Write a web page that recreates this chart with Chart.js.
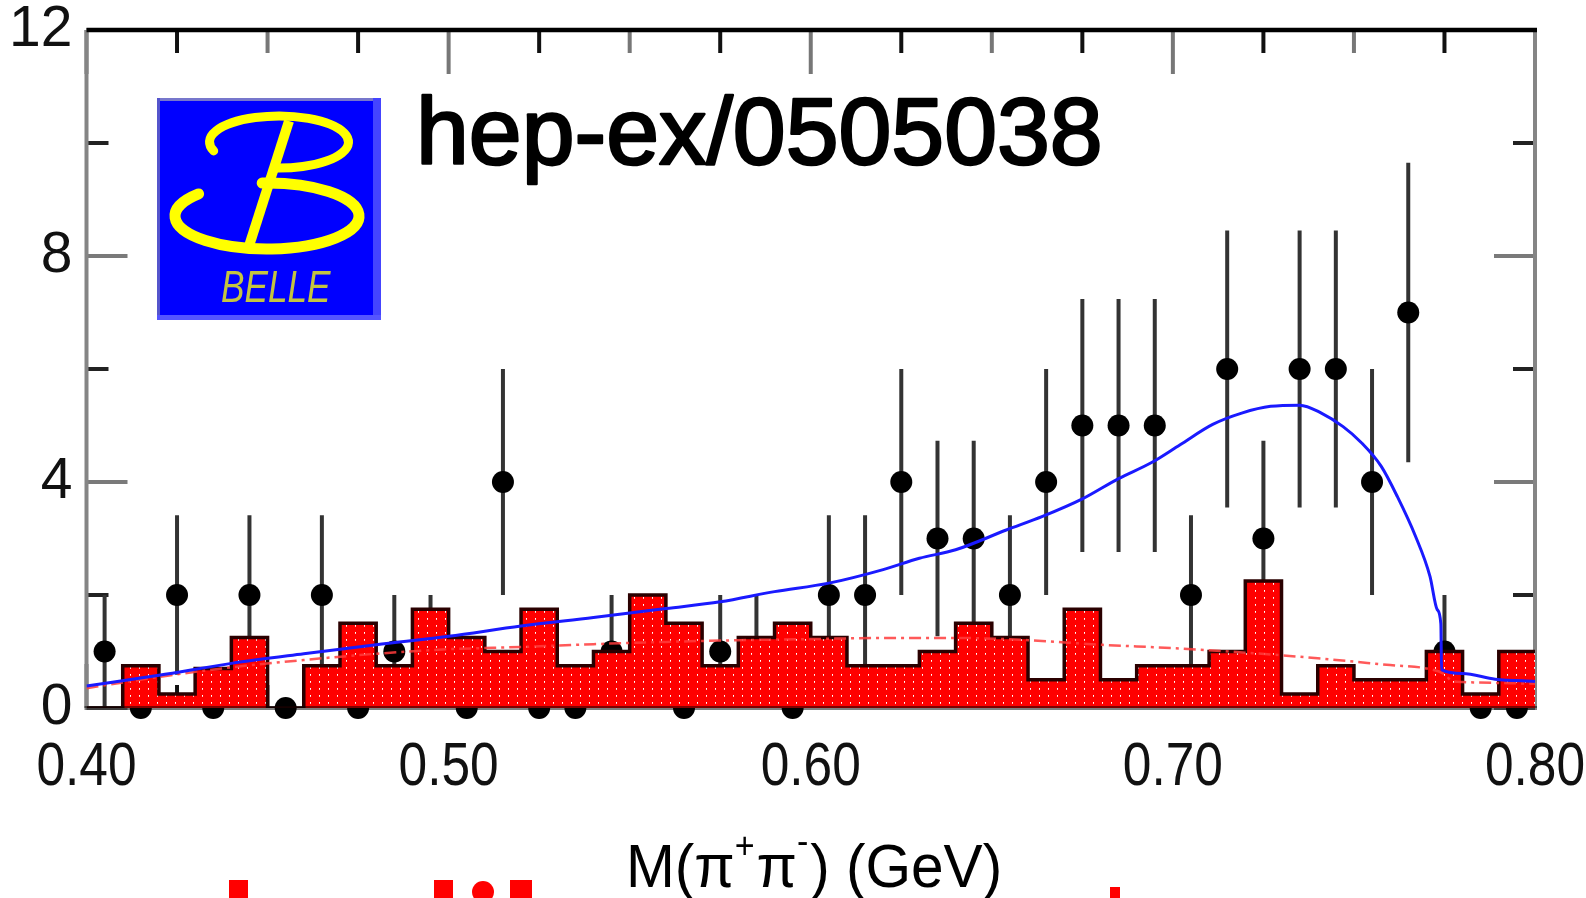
<!DOCTYPE html>
<html>
<head>
<meta charset="utf-8">
<script src="https://cdn.jsdelivr.net/npm/chart.js@4.4.1/dist/chart.umd.min.js"></script>
<style>
  html, body { margin: 0; padding: 0; background: #fff; overflow: hidden; }
  #wrap { width: 1586px; height: 898px; }
</style>
</head>
<body>
<div id="wrap"><canvas id="massChart" width="1586" height="898"></canvas></div>
<script>
// M(pi+ pi-) bin edges in GeV
const binEdges = [0.40, 0.41, 0.42, 0.43, 0.44, 0.45, 0.46, 0.47, 0.48, 0.49,
                  0.50, 0.51, 0.52, 0.53, 0.54, 0.55, 0.56, 0.57, 0.58, 0.59,
                  0.60, 0.61, 0.62, 0.63, 0.64, 0.65, 0.66, 0.67, 0.68, 0.69,
                  0.70, 0.71, 0.72, 0.73, 0.74, 0.75, 0.76, 0.77, 0.78, 0.79, 0.80];

// events per bin (black points)
const eventCounts = [1, 0, 2, 0, 2, 0, 2, 0, 1, 1,
                     0, 4, 0, 0, 1, 1, 0, 1, 1, 0,
                     2, 2, 4, 3, 3, 2, 4, 5, 5, 5,
                     2, 6, 3, 6, 6, 4, 7, 1, 0, 0];

// half length of each error bar
const countErrors = [1.0, 0, 1.41, 0, 1.41, 0, 1.41, 0, 1.0, 1.0,
                     0, 2.0, 0, 0, 1.0, 1.0, 0, 1.0, 1.0, 0,
                     1.41, 1.41, 2.0, 1.73, 1.73, 1.41, 2.0, 2.24, 2.24, 2.24,
                     1.41, 2.45, 1.73, 2.45, 2.45, 2.0, 2.65, 1.0, 0, 0];

// red filled histogram
const mcHeights = [0, 0.75, 0.25, 0.7, 1.25, 0, 0.75, 1.5, 0.75, 1.75,
                   1.25, 1.0, 1.75, 0.75, 1.0, 2.0, 1.5, 0.75, 1.25, 1.5,
                   1.25, 0.75, 0.75, 1.0, 1.5, 1.25, 0.5, 1.75, 0.5, 0.75,
                   0.75, 1.0, 2.25, 0.25, 0.75, 0.5, 0.5, 1.0, 0.25, 1.0];

// blue fit curve
const fitMass  = [0.40, 0.42, 0.44, 0.46, 0.48, 0.50, 0.52, 0.54, 0.56, 0.575,
                  0.59, 0.605, 0.62, 0.63, 0.64, 0.654, 0.664, 0.675, 0.685, 0.694,
                  0.702, 0.711, 0.719, 0.727, 0.735, 0.741, 0.747, 0.752, 0.7575, 0.762,
                  0.767, 0.771, 0.773, 0.774, 0.7742, 0.78, 0.789, 0.80];
const fitYield = [0.39, 0.58, 0.79, 0.96, 1.12, 1.27, 1.45, 1.6, 1.76, 1.88,
                  2.06, 2.21, 2.45, 2.65, 2.8, 3.15, 3.39, 3.7, 4.06, 4.34,
                  4.66, 5.02, 5.22, 5.34, 5.36, 5.22, 4.98, 4.7, 4.28, 3.74,
                  3.04, 2.33, 1.74, 1.49, 0.68, 0.61, 0.51, 0.47];

// red dash-dot background curve
const bkgMass  = [0.40, 0.42, 0.44, 0.46, 0.48, 0.50, 0.52, 0.54, 0.56, 0.58,
                  0.60, 0.62, 0.64, 0.66, 0.68, 0.70, 0.72, 0.74, 0.76, 0.77,
                  0.775, 0.777, 0.78, 0.80];
const bkgYield = [0.35, 0.55, 0.72, 0.85, 0.96, 1.04, 1.08, 1.13, 1.17, 1.2,
                  1.22, 1.24, 1.24, 1.2, 1.12, 1.06, 0.98, 0.88, 0.76, 0.7,
                  0.6, 0.48, 0.46, 0.43];

const xTickLabels = ['0.40', '0.50', '0.60', '0.70', '0.80'];

const canvas = document.getElementById('massChart');
const mainCtx = canvas.getContext('2d');

function makeFill() {
    const c = document.createElement('canvas');
    c.width = 9; c.height = 7;
    const g = c.getContext('2d');
    g.fillStyle = '#ff0000';
    g.fillRect(0, 0, 9, 7);
    g.fillStyle = '#ffc8c8';
    g.fillRect(4, 2, 1, 2);
    g.fillStyle = '#ffffff';
    g.fillRect(4, 2, 1, 1);
    return mainCtx.createPattern(c, 'repeat');
}

const histPoints = binEdges.map((m, i) => ({ x: m, y: mcHeights[Math.min(i, mcHeights.length - 1)] }));
const dataPoints = eventCounts.map((n, i) => ({ x: (binEdges[i] + binEdges[i + 1]) / 2, y: n }));
const fitPoints = fitMass.map((m, i) => ({ x: m, y: fitYield[i] }));
const bkgPoints = bkgMass.map((m, i) => ({ x: m, y: bkgYield[i] }));

function seg(ctx, x1, y1, x2, y2) {
    ctx.beginPath();
    ctx.moveTo(x1, y1);
    ctx.lineTo(x2, y2);
    ctx.stroke();
}

// inward ticks and frame, drawn under the data
const framePlugin = {
    id: 'frame',
    beforeDatasetsDraw(chart) {
        const { ctx, chartArea: a, scales: { x, y } } = chart;
        ctx.save();
        ctx.lineWidth = 4;
        for (let k = 0; k <= 16; k++) {
            const px = x.getPixelForValue(0.4 + k * 0.025);
            const len = k % 4 === 0 ? 44 : 23;
            ctx.strokeStyle = k % 2 ? '#111' : '#777';
            seg(ctx, px, a.top, px, a.top + len);
            seg(ctx, px, a.bottom, px, a.bottom - len);
        }
        for (let v = 0; v <= 12; v += 2) {
            const py = y.getPixelForValue(v);
            const len = v % 4 === 0 ? 41 : 22;
            ctx.strokeStyle = v % 4 ? '#222' : '#7a7a7a';
            seg(ctx, a.left, py, a.left + len, py);
            seg(ctx, a.right, py, a.right - len, py);
        }
        ctx.strokeStyle = '#858585';
        seg(ctx, a.left, a.top, a.left, a.bottom);
        seg(ctx, a.right, a.top, a.right, a.bottom);
        ctx.strokeStyle = '#000';
        ctx.lineWidth = 4.5;
        seg(ctx, a.left, a.top, a.right + 2, a.top);
        ctx.restore();
    },
    afterDatasetsDraw(chart) {
        const { ctx, chartArea: a } = chart;
        ctx.save();
        ctx.strokeStyle = 'rgba(0,0,0,0.5)';
        ctx.lineWidth = 4;
        seg(ctx, a.left - 2, a.bottom, a.right + 2, a.bottom);
        ctx.restore();
    }
};

const errorBarPlugin = {
    id: 'errorBars',
    beforeDatasetDraw(chart, args) {
        if (args.index !== 0) return;
        const { ctx, scales: { x, y } } = chart;
        ctx.save();
        ctx.strokeStyle = '#333';
        ctx.lineWidth = 4;
        dataPoints.forEach((p, i) => {
            const e = countErrors[i];
            if (!e) return;
            const px = x.getPixelForValue(p.x);
            seg(ctx, px, y.getPixelForValue(p.y - e), px, y.getPixelForValue(p.y + e));
        });
        ctx.restore();
    }
};

// x tick labels (condensed), logo, label and axis title
const decorPlugin = {
    id: 'decor',
    afterDraw(chart) {
        const ctx = chart.ctx;
        const xs = chart.scales.x;
        ctx.save();

        ctx.fillStyle = '#111';
        ctx.font = '62px "Liberation Sans", Arial, sans-serif';
        ctx.textAlign = 'center';
        ctx.textBaseline = 'middle';
        xs.ticks.forEach((t) => {
            const label = xTickLabels.find(s => Math.abs(parseFloat(s) - t.value) < 1e-6);
            if (!label) return;
            ctx.save();
            ctx.translate(xs.getPixelForValue(t.value), 768);
            ctx.scale(0.83, 1);
            ctx.fillText(label, 0, 0);
            ctx.restore();
        });
        ctx.textAlign = 'left';
        ctx.textBaseline = 'alphabetic';

        // BELLE logo
        ctx.fillStyle = '#0000ff';
        ctx.fillRect(157, 98, 224, 222);
        ctx.fillStyle = '#7777cc'; ctx.fillRect(157, 98, 224, 3);
        ctx.fillStyle = '#5555cc'; ctx.fillRect(157, 98, 3, 222);
        ctx.fillStyle = '#4444ff'; ctx.fillRect(373, 98, 8, 222);
        ctx.fillStyle = '#5555ff'; ctx.fillRect(157, 315, 224, 5);

        ctx.strokeStyle = '#ffff00';
        ctx.lineCap = 'round';
        ctx.lineWidth = 9;
        ctx.beginPath();
        ctx.ellipse(279, 142, 69.5, 26, 0, 160 * Math.PI / 180, 94 * Math.PI / 180, false);
        ctx.stroke();
        ctx.lineWidth = 11;
        ctx.beginPath();
        ctx.ellipse(267, 216, 92, 33, 0, 222 * Math.PI / 180, 267 * Math.PI / 180, true);
        ctx.stroke();
        ctx.lineWidth = 10;
        ctx.lineCap = 'butt';
        seg(ctx, 289, 121, 249, 246);

        ctx.fillStyle = '#c4c440';
        ctx.font = 'italic 44px "Liberation Sans", Arial, sans-serif';
        ctx.save();
        ctx.translate(221, 302);
        ctx.scale(0.8, 1);
        ctx.fillText('BELLE', 0, 0);
        ctx.restore();

        // paper reference
        ctx.fillStyle = '#000';
        ctx.strokeStyle = '#000';
        ctx.lineWidth = 2.5;
        ctx.lineJoin = 'round';
        ctx.font = '95px "Liberation Sans", Arial, sans-serif';
        ctx.fillText('hep-ex/0505038', 416, 164);
        ctx.strokeText('hep-ex/0505038', 416, 164);

        // x axis title with superscripts
        const big = '62px "Liberation Sans", Arial, sans-serif';
        const small = '36px "Liberation Sans", Arial, sans-serif';
        const parts = [
            ['M(π', big, 0], ['+', small, -29], ['π', big, 0], ['-', small, -34], [') (GeV)', big, 0]
        ];
        ctx.save();
        ctx.translate(626, 887);
        ctx.scale(0.945, 1);
        let cx = 0;
        parts.forEach(([t, f, dy]) => {
            ctx.font = f;
            ctx.fillText(t, cx, dy);
            cx += ctx.measureText(t).width + (dy ? 2 : 0);
        });
        ctx.restore();

        // red fragments along the lower edge
        ctx.fillStyle = '#ff0000';
        ctx.fillRect(229, 880, 19, 18);
        ctx.fillRect(434, 880, 19, 18);
        ctx.beginPath();
        ctx.ellipse(483, 892, 11, 11, 0, 0, Math.PI * 2);
        ctx.fill();
        ctx.fillRect(510, 880, 22, 18);
        ctx.fillRect(1110, 887, 10, 11);
        ctx.restore();
    }
};

new Chart(mainCtx, {
    type: 'scatter',
    data: {
        datasets: [{
            label: 'Data',
            data: dataPoints,
            pointRadius: 11,
            pointHoverRadius: 11,
            pointBackgroundColor: '#000',
            pointBorderWidth: 0,
            clip: false,
            order: 4
        }, {
            type: 'line',
            label: 'MC',
            data: histPoints,
            stepped: 'before',
            fill: 'origin',
            backgroundColor: makeFill(),
            borderColor: '#2a0000',
            borderWidth: 3.5,
            pointRadius: 0,
            order: 3
        }, {
            type: 'line',
            label: 'Background',
            data: bkgPoints,
            borderColor: 'rgba(255,60,60,0.85)',
            borderWidth: 2.5,
            borderDash: [12, 5, 3, 5],
            tension: 0.4,
            cubicInterpolationMode: 'monotone',
            pointRadius: 0,
            fill: false,
            order: 2
        }, {
            type: 'line',
            label: 'Fit',
            data: fitPoints,
            borderColor: '#1a1aff',
            borderWidth: 3,
            tension: 0.4,
            cubicInterpolationMode: 'monotone',
            pointRadius: 0,
            fill: false,
            order: 1
        }]
    },
    options: {
        responsive: false,
        animation: false,
        devicePixelRatio: 1,
        layout: { padding: { left: 0, right: 51, top: 30, bottom: 0 } },
        plugins: {
            legend: { display: false },
            tooltip: { enabled: false }
        },
        scales: {
            x: {
                type: 'linear',
                min: 0.4,
                max: 0.8,
                grid: { display: false, drawTicks: false },
                border: { display: false },
                ticks: { stepSize: 0.1, display: false },
                afterFit: (s) => { s.height = 190; s.paddingLeft = 0; s.paddingRight = 0; }
            },
            y: {
                min: 0,
                max: 12,
                grid: { display: false, drawTicks: false },
                border: { display: false },
                ticks: {
                    stepSize: 4,
                    padding: 14,
                    color: '#111',
                    font: { family: '"Liberation Sans", Arial, sans-serif', size: 57, lineHeight: 1 }
                },
                afterFit: (s) => { s.width = 86.5; s.paddingTop = 0; s.paddingBottom = 0; }
            }
        }
    },
    plugins: [framePlugin, errorBarPlugin, decorPlugin]
});
</script>
</body>
</html>
